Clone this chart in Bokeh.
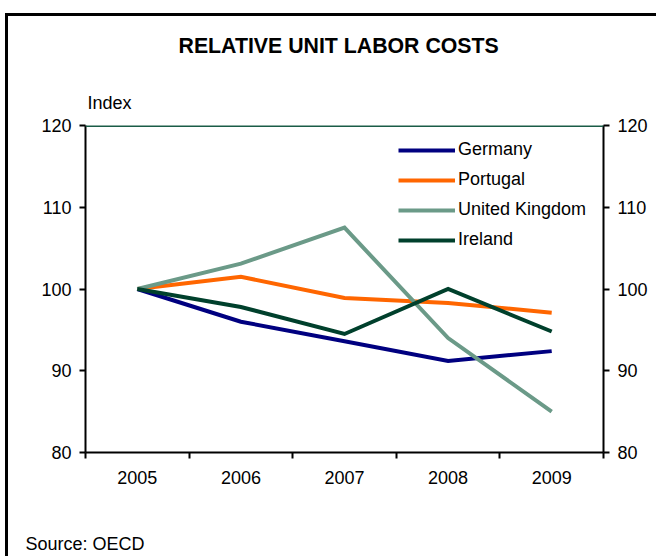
from bokeh.plotting import figure
from bokeh.models import (Range1d, FixedTicker, LinearAxis, Legend, LegendItem, Title, Span)
from bokeh.embed import file_html
from bokeh.resources import INLINE

years = ["2005", "2006", "2007", "2008", "2009"]
germany = [100.0, 96.0, 93.6, 91.2, 92.4]
portugal = [100.0, 101.5, 98.9, 98.3, 97.1]
uk = [100.0, 103.1, 107.5, 94.0, 85.0]
ireland = [100.0, 97.8, 94.5, 100.0, 94.8]
y_ticks = [80, 90, 100, 110, 120]

series = [
    ("Germany", germany, "#000080"),
    ("Portugal", portugal, "#ff6600"),
    ("United Kingdom", uk, "#6b9a88"),
    ("Ireland", ireland, "#00402c"),
]

FONT = "Liberation Sans"
FS = "18px"
xs = [i + 0.5 for i in range(len(years))]

p = figure(width=651, height=543, output_backend="svg", toolbar_location=None,
           x_range=Range1d(0, len(years)), y_range=Range1d(80, 120),
           min_border_left=77, min_border_right=56, min_border_top=109, min_border_bottom=107,
           x_axis_location="below", y_axis_location="left")
p.styles = {"border-left": "3px solid black", "border-top": "3px solid black",
            "margin-top": "13px", "margin-left": "5px"}
p.outline_line_color = None
p.xgrid.visible = False
p.ygrid.visible = False
p.background_fill_color = "white"
p.border_fill_color = "white"

# x axis: ticks at boundaries (minor), labels at centers (major)
xa = p.xaxis[0]
xa.ticker = FixedTicker(ticks=xs, minor_ticks=list(range(len(years) + 1)))
xa.major_label_overrides = {x: y for x, y in zip(xs, years)}
xa.major_tick_out = 0
xa.major_tick_in = 0
xa.minor_tick_out = 6
xa.minor_tick_in = 0
xa.minor_tick_line_color = "black"
xa.minor_tick_line_width = 2
xa.axis_line_width = 2
xa.major_label_standoff = 12
xa.major_label_text_font = FONT
xa.major_label_text_font_size = FS
xa.major_label_text_color = "black"

ya = p.yaxis[0]
ya.ticker = FixedTicker(ticks=y_ticks)
ya.minor_tick_line_color = None
ya.major_tick_out = 6
ya.major_tick_in = 0
ya.major_tick_line_width = 2
ya.axis_line_width = 2
ya.major_label_standoff = 8
ya.major_label_text_font = FONT
ya.major_label_text_font_size = FS
ya.major_label_text_color = "black"

ra = LinearAxis(ticker=FixedTicker(ticks=y_ticks))
ra.minor_tick_line_color = None
ra.major_tick_out = 6
ra.major_tick_in = 0
ra.major_tick_line_width = 2
ra.axis_line_width = 2
ra.major_label_standoff = 8
ra.major_label_text_font = FONT
ra.major_label_text_font_size = FS
ra.major_label_text_color = "black"
p.add_layout(ra, "right")

p.add_layout(Span(location=120, dimension="width", line_color="#1a5c47", line_width=3))

items = []
for name, vals, color in series:
    r = p.line(xs, vals, line_color=color, line_width=4, line_join="miter")
    items.append(LegendItem(label=name, renderers=[r]))

legend = Legend(items=items, location=(313, 202), glyph_width=57, glyph_height=20,
                label_height=20, spacing=9, label_standoff=3, padding=0, margin=0,
                border_line_color=None, background_fill_alpha=0,
                label_text_font=FONT, label_text_font_size=FS, label_text_color="black")
p.add_layout(legend, "center")

# above panel: "Index" nearest the frame, then a spacer, then the title
p.title = Title(text="RELATIVE UNIT LABOR COSTS", align="left", offset=93, standoff=0,
                text_font=FONT, text_font_style="bold", text_font_size="21.3px", text_color="black")
p.add_layout(Title(text="Index", align="left", offset=2, standoff=25,
                   text_font=FONT, text_font_style="normal", text_font_size=FS, text_color="black"),
             "above")
p.add_layout(Title(text=" ", text_font_size="1px", standoff=18), "above")
# below panel: axis, spacer, source
p.add_layout(Title(text=" ", text_font_size="1px", standoff=42), "below")
p.add_layout(Title(text="Source: OECD", align="left", offset=-60, standoff=0,
                   text_font=FONT, text_font_style="normal", text_font_size=FS, text_color="black"),
             "below")

open("out.html", "w").write(file_html(p, INLINE))
